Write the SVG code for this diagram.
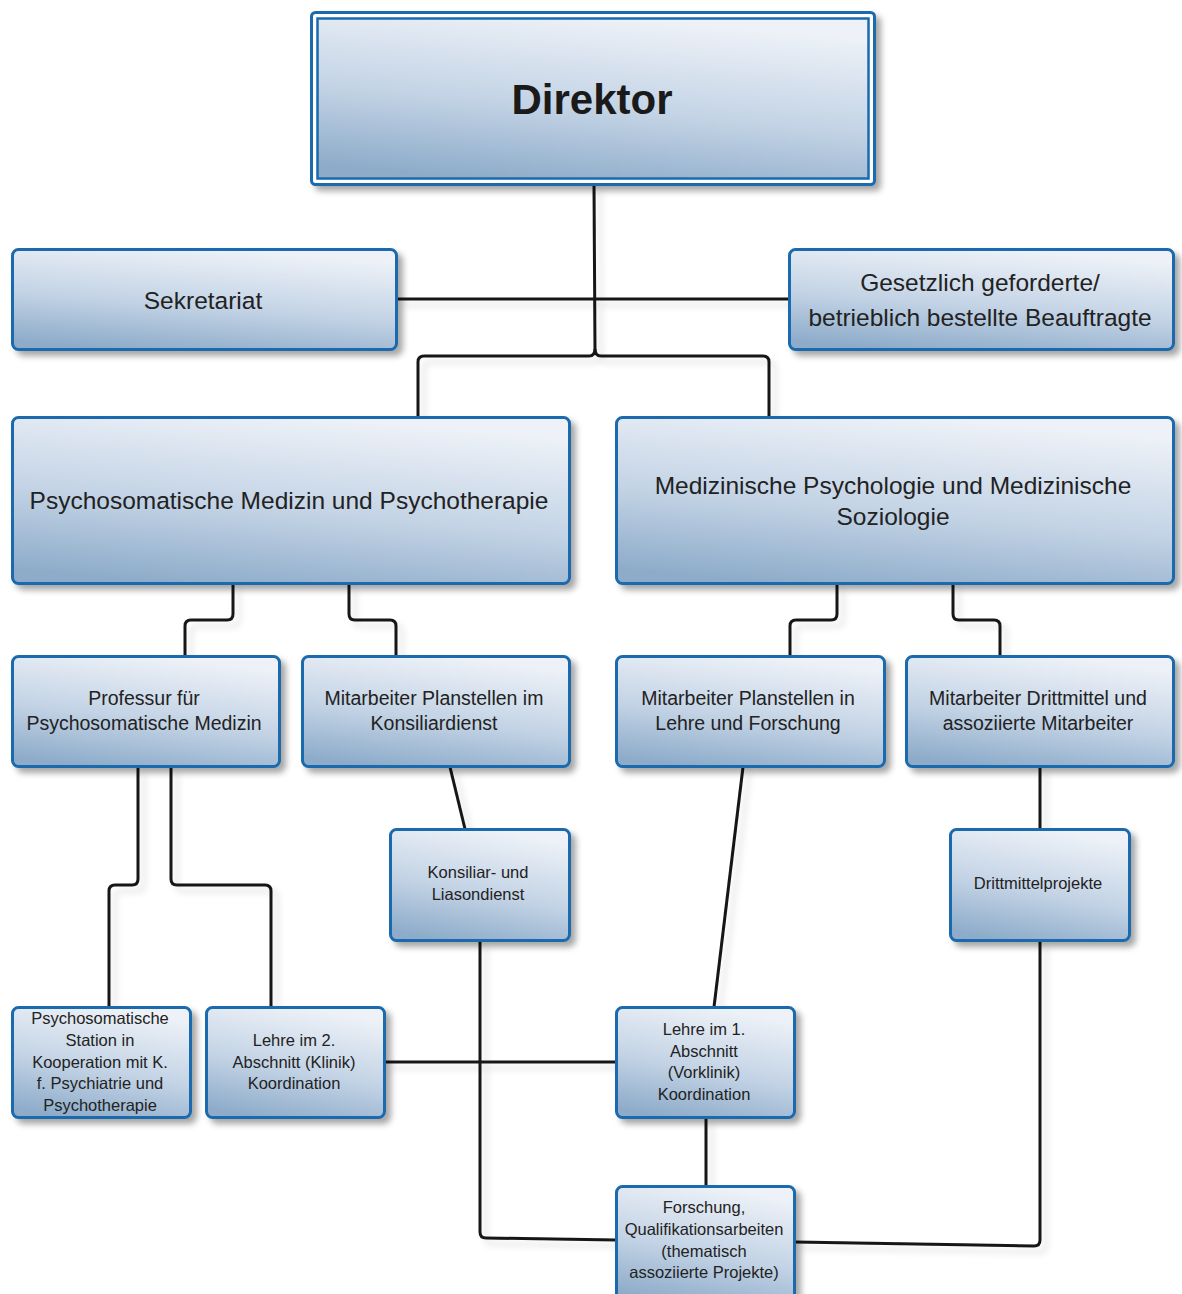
<svg xmlns="http://www.w3.org/2000/svg" width="1182" height="1294" viewBox="0 0 1182 1294">
<defs>
<linearGradient id="g" x1="0.3" y1="1" x2="0.6" y2="0">
<stop offset="0" stop-color="#8eacca"/>
<stop offset="0.45" stop-color="#c3d3e5"/>
<stop offset="1" stop-color="#eef2f8"/>
</linearGradient>
<filter id="sh" x="-10%" y="-10%" width="130%" height="140%">
<feDropShadow dx="5" dy="5" stdDeviation="3" flood-color="#000" flood-opacity="0.35"/>
</filter>
<filter id="lsh" x="-20%" y="-20%" width="140%" height="140%">
<feDropShadow dx="6" dy="6" stdDeviation="3" flood-color="#000" flood-opacity="0.12"/>
</filter>
</defs>
<style>
.box{fill:url(#g);stroke:#1a6aae;stroke-width:3;filter:url(#sh)}
.c{fill:none;stroke:#151515;stroke-width:3;stroke-linejoin:round}
text{font-family:"Liberation Sans",Arial,sans-serif;fill:#222;text-anchor:middle}
.big{font-size:24.5px}
.mid{font-size:19.5px}
.sm{font-size:16.5px}
</style>
<rect width="1182" height="1294" fill="#fff"/>
<g id="connectors" filter="url(#lsh)">
<path class="c" d="M594 185 L595 349 Q595 356 589 356 L424 356 Q418 356 418 362 L418 417"/>
<path class="c" d="M595 349 Q595 356 601 356 L763 356 Q769 356 769 362 L769 417"/>
<path class="c" d="M397 299 L789 299"/>
<path class="c" d="M233 584 L233 614 Q233 620 227 620 L191 620 Q185 620 185 626 L185 656"/>
<path class="c" d="M349 584 L349 614 Q349 620 355 620 L390 620 Q396 620 396 626 L396 656"/>
<path class="c" d="M837 584 L837 614 Q837 620 831 620 L796 620 Q790 620 790 626 L790 656"/>
<path class="c" d="M953 584 L953 614 Q953 620 959 620 L994 620 Q1000 620 1000 626 L1000 656"/>
<path class="c" d="M138 767 L138 879 Q138 885 132 885 L115 885 Q109 885 109 891 L109 1007"/>
<path class="c" d="M171 767 L171 879 Q171 885 177 885 L265 885 Q271 885 271 891 L271 1007"/>
<path class="c" d="M450 767 L465 829"/>
<path class="c" d="M743 767 L714 1007"/>
<path class="c" d="M1040 767 L1040 829"/>
<path class="c" d="M480 941 L480 1232 Q480 1238 486 1238 L616 1240"/>
<path class="c" d="M385 1062 L616 1062"/>
<path class="c" d="M706 1118 L706 1186"/>
<path class="c" d="M1040 941 L1040 1240 Q1040 1246 1034 1246 L795 1242"/>
</g>
<g id="direktor">
<rect x="311.5" y="12.5" width="563" height="172" rx="4" fill="#fff" stroke="#1a6aae" stroke-width="3" filter="url(#sh)"/>
<rect x="317.5" y="18.5" width="551" height="160" fill="url(#g)" stroke="#1a6aae" stroke-width="2.5"/>
<text x="592" y="114" style="font-size:42px;font-weight:bold;fill:#1a1a1a">Direktor</text>
</g>
<g id="sekretariat">
<rect class="box" x="12.5" y="249.5" width="384" height="100" rx="6"/>
<text class="big" x="203" y="309">Sekretariat</text>
</g>
<g id="beauftragte">
<rect class="box" x="789.5" y="249.5" width="384" height="100" rx="6"/>
<text class="big" x="980" y="291">Gesetzlich geforderte/</text>
<text class="big" x="980" y="326">betrieblich bestellte Beauftragte</text>
</g>
<g id="psychosomatik">
<rect class="box" x="12.5" y="417.5" width="557" height="166" rx="6"/>
<text class="big" x="289" y="509">Psychosomatische Medizin und Psychotherapie</text>
</g>
<g id="medpsych">
<rect class="box" x="616.5" y="417.5" width="557" height="166" rx="6"/>
<text class="big" x="893" y="494">Medizinische Psychologie und Medizinische</text>
<text class="big" x="893" y="525">Soziologie</text>
</g>
<g id="professur">
<rect class="box" x="12.5" y="656.5" width="267" height="110" rx="6"/>
<text class="mid" x="144" y="705">Professur für</text>
<text class="mid" x="144" y="730">Psychosomatische Medizin</text>
</g>
<g id="konsiliardienst">
<rect class="box" x="302.5" y="656.5" width="267" height="110" rx="6"/>
<text class="mid" x="434" y="705">Mitarbeiter Planstellen im</text>
<text class="mid" x="434" y="730">Konsiliardienst</text>
</g>
<g id="lehreforschung">
<rect class="box" x="616.5" y="656.5" width="268" height="110" rx="6"/>
<text class="mid" x="748" y="705">Mitarbeiter Planstellen in</text>
<text class="mid" x="748" y="730">Lehre und Forschung</text>
</g>
<g id="drittmittel">
<rect class="box" x="906.5" y="656.5" width="267" height="110" rx="6"/>
<text class="mid" x="1038" y="705">Mitarbeiter Drittmittel und</text>
<text class="mid" x="1038" y="730">assoziierte Mitarbeiter</text>
</g>
<g id="liasondienst">
<rect class="box" x="390.5" y="829.5" width="179" height="111" rx="6"/>
<text class="sm" x="478" y="878">Konsiliar- und</text>
<text class="sm" x="478" y="900">Liasondienst</text>
</g>
<g id="drittmittelprojekte">
<rect class="box" x="950.5" y="829.5" width="179" height="111" rx="6"/>
<text class="sm" x="1038" y="889">Drittmittelprojekte</text>
</g>
<g id="station">
<rect class="box" x="12.5" y="1007.5" width="178" height="110" rx="6"/>
<text class="sm" x="100" y="1024">Psychosomatische</text>
<text class="sm" x="100" y="1046">Station in</text>
<text class="sm" x="100" y="1068">Kooperation mit K.</text>
<text class="sm" x="100" y="1089">f. Psychiatrie und</text>
<text class="sm" x="100" y="1111">Psychotherapie</text>
</g>
<g id="lehre2">
<rect class="box" x="206.5" y="1007.5" width="178" height="110" rx="6"/>
<text class="sm" x="294" y="1046">Lehre im 2.</text>
<text class="sm" x="294" y="1068">Abschnitt (Klinik)</text>
<text class="sm" x="294" y="1089">Koordination</text>
</g>
<g id="lehre1">
<rect class="box" x="616.5" y="1007.5" width="178" height="110" rx="6"/>
<text class="sm" x="704" y="1035">Lehre im 1.</text>
<text class="sm" x="704" y="1057">Abschnitt</text>
<text class="sm" x="704" y="1078">(Vorklinik)</text>
<text class="sm" x="704" y="1100">Koordination</text>
</g>
<g id="forschung">
<rect class="box" x="616.5" y="1186.5" width="178" height="116" rx="6"/>
<text class="sm" x="704" y="1213">Forschung,</text>
<text class="sm" x="704" y="1235">Qualifikationsarbeiten</text>
<text class="sm" x="704" y="1257">(thematisch</text>
<text class="sm" x="704" y="1278">assoziierte Projekte)</text>
</g>
</svg>
